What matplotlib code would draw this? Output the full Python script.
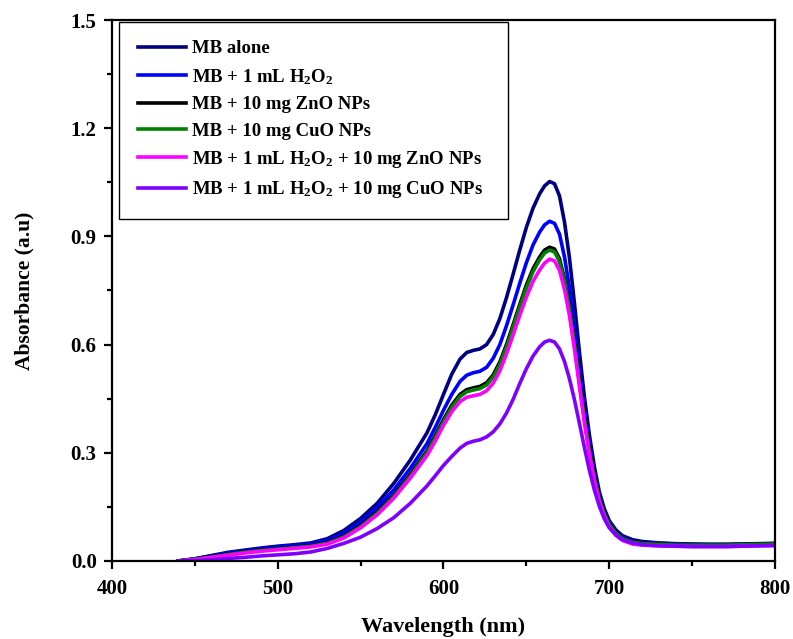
import matplotlib
matplotlib.use('Agg')
import matplotlib.pyplot as plt

plt.rcParams['font.family'] = ['Liberation Serif', 'DejaVu Serif']
plt.rcParams['font.weight'] = 'bold'
plt.rcParams['mathtext.fontset'] = 'custom'
plt.rcParams['mathtext.rm'] = 'Liberation Serif:bold'
plt.rcParams['mathtext.it'] = 'Liberation Serif:bold'
plt.rcParams['mathtext.bf'] = 'Liberation Serif:bold'
plt.rcParams['mathtext.default'] = 'rm'

# wavelength grid (nm)
wavelength = [440, 450, 460, 470, 480, 490, 500, 510, 520, 530, 540, 550, 560, 570, 580, 590,
              595, 600, 605, 610,
              614, 618, 622, 626, 630, 634, 638, 642, 646, 650, 654, 658,
              661, 664, 667, 670, 673, 676, 679, 682, 685, 688, 691, 694, 697, 700,
              704, 708, 714, 720,
              730, 740, 750, 760, 770, 780, 790, 800]

mb_alone = [0.0, 0.006, 0.015, 0.024, 0.030, 0.036, 0.041, 0.045, 0.050, 0.062, 0.085, 0.118, 0.160, 0.215, 0.280, 0.355,
            0.405, 0.462, 0.518, 0.560,
            0.578, 0.584, 0.588, 0.600, 0.628, 0.672, 0.730, 0.795, 0.862, 0.925, 0.978, 1.018,
            1.040, 1.052, 1.046, 1.012, 0.940, 0.840, 0.715, 0.580, 0.455, 0.350, 0.262, 0.192, 0.145, 0.112,
            0.086, 0.070, 0.059, 0.054,
            0.050, 0.048, 0.047, 0.046, 0.046, 0.047, 0.048, 0.049]

mb_h2o2 = [0.0, 0.006, 0.014, 0.022, 0.028, 0.034, 0.039, 0.043, 0.047, 0.057, 0.077, 0.108, 0.148, 0.197, 0.257, 0.325,
           0.370, 0.418, 0.462, 0.498,
           0.515, 0.522, 0.526, 0.537, 0.562, 0.600, 0.652, 0.710, 0.770, 0.827, 0.876, 0.912,
           0.932, 0.942, 0.936, 0.906, 0.843, 0.757, 0.648, 0.530, 0.418, 0.323, 0.243, 0.180, 0.137, 0.106,
           0.082, 0.067, 0.057, 0.052,
           0.049, 0.047, 0.046, 0.046, 0.046, 0.046, 0.047, 0.048]

mb_zno = [0.0, 0.005, 0.012, 0.019, 0.025, 0.030, 0.034, 0.038, 0.042, 0.051, 0.069, 0.098, 0.136, 0.182, 0.240, 0.305,
          0.347, 0.392, 0.432, 0.462,
          0.475, 0.480, 0.484, 0.494, 0.516, 0.552, 0.600, 0.655, 0.711, 0.765, 0.810, 0.843,
          0.862, 0.870, 0.865, 0.838, 0.782, 0.705, 0.607, 0.500, 0.397, 0.308, 0.233, 0.174, 0.133, 0.103,
          0.079, 0.064, 0.054, 0.050,
          0.047, 0.045, 0.045, 0.045, 0.045, 0.046, 0.047, 0.048]

mb_cuo = [0.0, 0.005, 0.011, 0.018, 0.024, 0.029, 0.033, 0.037, 0.041, 0.049, 0.067, 0.095, 0.132, 0.178, 0.235, 0.300,
          0.341, 0.386, 0.426, 0.456,
          0.469, 0.474, 0.478, 0.488, 0.510, 0.545, 0.593, 0.648, 0.704, 0.757, 0.802, 0.835,
          0.854, 0.862, 0.857, 0.830, 0.775, 0.699, 0.602, 0.496, 0.394, 0.305, 0.230, 0.172, 0.131, 0.101,
          0.077, 0.062, 0.052, 0.048,
          0.046, 0.044, 0.044, 0.044, 0.044, 0.045, 0.046, 0.047]

mb_h2o2_zno = [0.0, 0.004, 0.010, 0.016, 0.022, 0.027, 0.031, 0.035, 0.039, 0.047, 0.064, 0.092, 0.128, 0.174, 0.230, 0.292,
               0.332, 0.376, 0.414, 0.442,
               0.454, 0.458, 0.462, 0.472, 0.493, 0.527, 0.574, 0.627, 0.681, 0.732, 0.775, 0.807,
               0.826, 0.837, 0.832, 0.806, 0.753, 0.680, 0.587, 0.484, 0.383, 0.296, 0.222, 0.165, 0.124, 0.095,
               0.071, 0.057, 0.047, 0.044,
               0.042, 0.041, 0.040, 0.040, 0.040, 0.041, 0.042, 0.043]

mb_h2o2_cuo = [0.0, 0.001, 0.003, 0.007, 0.010, 0.014, 0.017, 0.020, 0.025, 0.035, 0.049, 0.066, 0.090, 0.120, 0.160, 0.208,
               0.236, 0.265, 0.290, 0.313,
               0.326, 0.332, 0.336, 0.344, 0.358, 0.380, 0.410, 0.448, 0.492, 0.533, 0.568, 0.594,
               0.607, 0.612, 0.607, 0.588, 0.553, 0.505, 0.447, 0.382, 0.315, 0.252, 0.197, 0.152, 0.117, 0.092,
               0.072, 0.059, 0.050, 0.045,
               0.042, 0.041, 0.040, 0.040, 0.040, 0.041, 0.042, 0.043]

series = [
    (mb_alone, 'MB alone', '#000080'),
    (mb_h2o2, 'MB + 1 mL H$_2$O$_2$', '#0000FF'),
    (mb_zno, 'MB + 10 mg ZnO NPs', '#000000'),
    (mb_cuo, 'MB + 10 mg CuO NPs', '#008000'),
    (mb_h2o2_zno, 'MB + 1 mL H$_2$O$_2$ + 10 mg ZnO NPs', '#FF00FF'),
    (mb_h2o2_cuo, 'MB + 1 mL H$_2$O$_2$ + 10 mg CuO NPs', '#8000FF'),
]

fig = plt.figure(figsize=(7.93, 6.39), dpi=100)
ax = fig.add_axes([0.1412, 0.1221, 0.8361, 0.8466])

for values, label, color in series:
    ax.plot(wavelength, values, color=color, lw=2.6, label=label, solid_joinstyle='round')

ax.set_xlim(400, 800)
ax.set_ylim(0, 1.5)
ax.set_xticks([400, 500, 600, 700, 800])
ax.set_xticks([450, 550, 650, 750], minor=True)
ax.set_yticks([0.0, 0.3, 0.6, 0.9, 1.2, 1.5])
ax.set_yticks([0.15, 0.45, 0.75, 1.05, 1.35], minor=True)
ax.set_yticklabels(['0.0', '0.3', '0.6', '0.9', '1.2', '1.5'])
ax.tick_params(which='major', direction='out', length=6, width=1.6, labelsize=15)
ax.tick_params(axis='x', which='major', pad=7)
ax.tick_params(axis='y', which='major', pad=5)
ax.tick_params(which='minor', direction='out', length=3.5, width=1.6)
for sp in ax.spines.values():
    sp.set_linewidth(1.6)

ax.set_xlabel('Wavelength (nm)', fontsize=16, fontweight='bold', labelpad=13)
ax.set_ylabel('Absorbance (a.u)', fontsize=15.5, fontweight='bold', labelpad=26)

leg = ax.legend(loc='upper left', bbox_to_anchor=(0.0106, 0.0, 0.587, 0.997), mode='expand',
                fontsize=13.5, handlelength=2.55, handletextpad=0.35, labelspacing=0.5,
                borderpad=1.0, borderaxespad=0, fancybox=False, framealpha=1, edgecolor='black')
leg.get_frame().set_linewidth(1.0)

fig.savefig('out.png', dpi=100)
